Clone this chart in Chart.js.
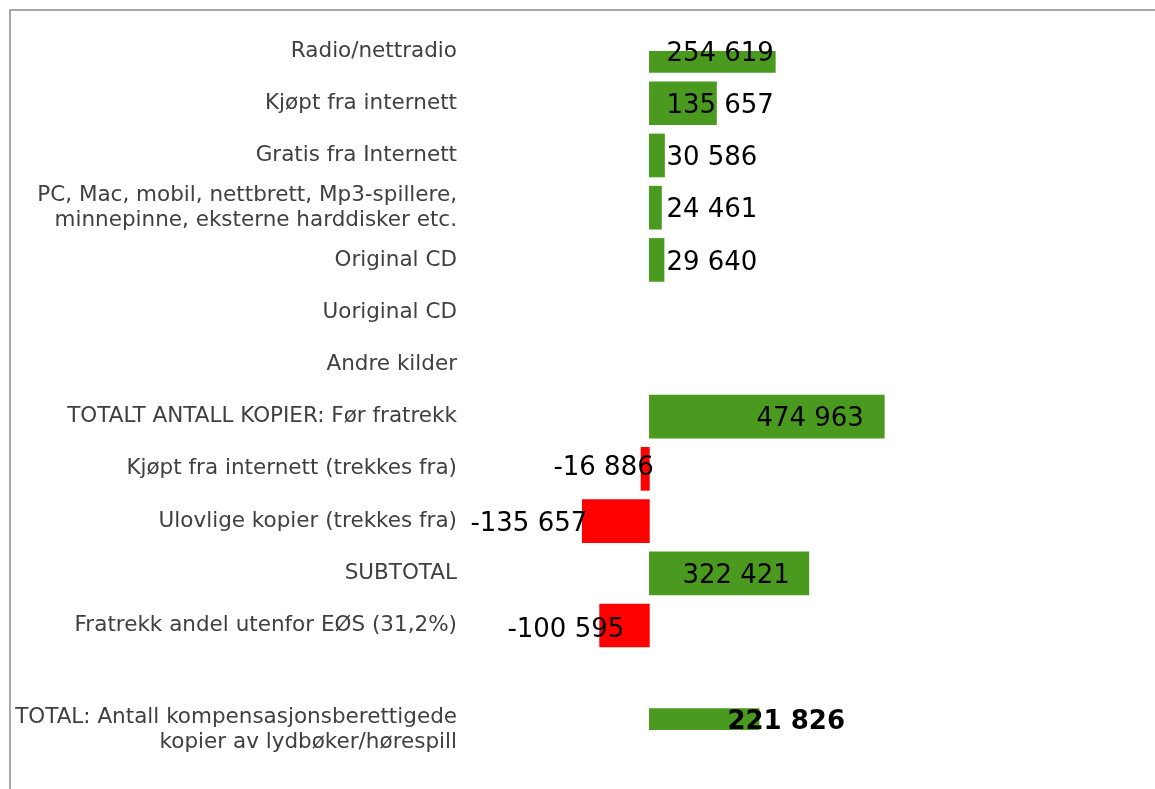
<!DOCTYPE html>
<html>
<head>
<meta charset="utf-8">
<script src="https://cdn.jsdelivr.net/npm/chart.js@4/dist/chart.umd.min.js"></script>
<style>
  html, body { margin: 0; padding: 0; background: #ffffff; }
  #wrap { width: 1155px; height: 789px; position: relative; }
</style>
</head>
<body>
<div id="wrap"><canvas id="c"></canvas></div>
<script>
// ---- data ----
const categories = [
  'Radio/nettradio',
  'Kjøpt fra internett',
  'Gratis fra Internett',
  ['PC, Mac, mobil, nettbrett, Mp3-spillere,', 'minnepinne, eksterne harddisker etc.'],
  'Original CD',
  'Uoriginal CD',
  'Andre kilder',
  'TOTALT ANTALL KOPIER: Før fratrekk',
  'Kjøpt fra internett (trekkes fra)',
  'Ulovlige kopier (trekkes fra)',
  'SUBTOTAL',
  'Fratrekk andel utenfor EØS (31,2%)',
  '',
  ['TOTAL: Antall kompensasjonsberettigede', 'kopier av lydbøker/hørespill']
];
const values = [254619, 135657, 30586, 24461, 29640, null, null, 474963, -16886, -135657, 322421, -100595, null, 221826];

// ---- styling (not data) ----
const labelDx = [17, 17, 17, 17, 17, 0, 0, 107, -96, -179, 33, -142, 0, 78];
const labelDy = [3, 3, 3, 3, 3, 0, 0, 3, -1, 3, 3, 5, 0, -8];
const boldRows = [13];
const GREEN = '#4a9a1f';
const RED = '#ff0000';

function fmt(v) {
  const s = Math.abs(v).toString().replace(/\B(?=(\d{3})+(?!\d))/g, ' ');
  return (v < 0 ? '-' : '') + s;
}

const frame = {
  id: 'frame',
  beforeDraw(chart) {
    const ctx = chart.ctx;
    ctx.save();
    ctx.strokeStyle = '#8c8c8c';
    ctx.lineWidth = 1.5;
    ctx.beginPath();
    ctx.moveTo(10, chart.height);
    ctx.lineTo(10, 10);
    ctx.lineTo(chart.width, 10);
    ctx.stroke();
    ctx.restore();
  }
};

const valueLabels = {
  id: 'valueLabels',
  afterDatasetsDraw(chart) {
    const ctx = chart.ctx;
    const meta = chart.getDatasetMeta(0);
    const base = chart.scales.x.getPixelForValue(0);
    ctx.save();
    ctx.fillStyle = '#000000';
    ctx.textBaseline = 'middle';
    ctx.textAlign = 'left';
    meta.data.forEach((bar, i) => {
      const v = values[i];
      if (v === null || v === undefined) return;
      ctx.font = (boldRows.includes(i) ? 'bold ' : '') + '26px "DejaVu Sans"';
      ctx.fillText(fmt(v), base + labelDx[i], bar.y + labelDy[i]);
    });
    ctx.restore();
  }
};

new Chart(document.getElementById('c'), {
  type: 'bar',
  data: {
    labels: categories,
    datasets: [{
      data: values,
      backgroundColor: values.map(v => (v !== null && v < 0) ? RED : GREEN),
      borderWidth: 0,
      barThickness: 43,
      clip: 0
    }]
  },
  plugins: [frame, valueLabels],
  options: {
    indexAxis: 'y',
    responsive: true,
    maintainAspectRatio: false,
    animation: false,
    layout: { padding: { left: 0, top: 51, right: 11, bottom: 59 } },
    plugins: {
      legend: { display: false },
      tooltip: { enabled: false },
      title: { display: false }
    },
    scales: {
      x: {
        type: 'linear',
        min: -300000,
        max: 1000000,
        display: false
      },
      y: {
        type: 'category',
        offset: false,
        grid: { display: false, drawTicks: false },
        border: { display: false },
        ticks: {
          padding: 44,
          color: '#404040',
          autoSkip: false,
          font: { family: '"DejaVu Sans"', size: 21.5, lineHeight: 1.18 }
        },
        afterFit(scale) {
          scale.width = 501;
          scale.paddingTop = 0;
          scale.paddingBottom = 0;
        }
      }
    }
  }
});
</script>
</body>
</html>
